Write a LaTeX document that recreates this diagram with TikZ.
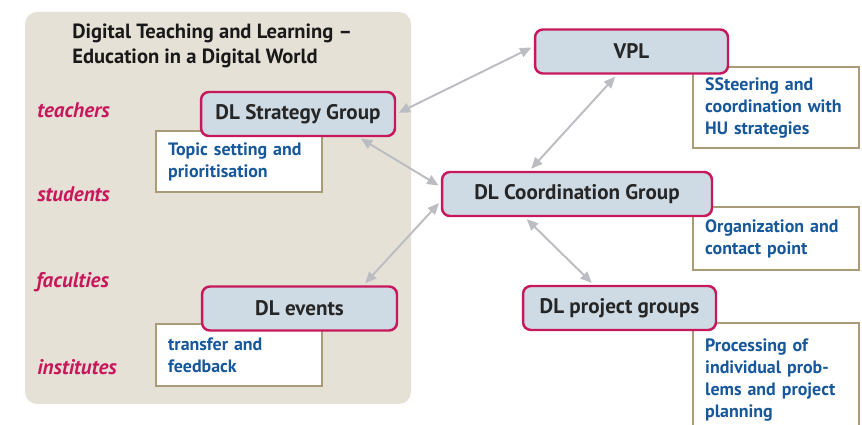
\documentclass[tikz,border=0pt]{standalone}
\usepackage{fontspec}
\setmainfont{PT Sans}
\usepackage{tikz}
\usetikzlibrary{arrows.meta}
\definecolor{panelgray}{RGB}{229,225,214}
\definecolor{hubred}{RGB}{200,24,92}
\definecolor{boxblue}{RGB}{206,219,229}
\definecolor{notetan}{RGB}{170,155,120}
\definecolor{noteblue}{RGB}{22,88,155}
\definecolor{arrowgray}{RGB}{188,189,194}

\begin{document}
\begin{tikzpicture}[x=0.02cm, y=-0.02cm,
	group/.style={draw=hubred, line width=1.4pt, fill=boxblue, rounded corners=4.5pt, minimum height=0.88cm, text=black!85, font=\bfseries\fontsize{12}{14}\selectfont},
	note/.style={draw=notetan, line width=1.4pt, fill=white, anchor=north west, minimum width=3.32cm, text width=2.84cm, inner xsep=0.24cm, align=left, text=noteblue, font=\bfseries\fontsize{10.2}{12.5}\selectfont},
	role/.style={anchor=base west, inner sep=0pt, text=hubred, font=\bfseries\itshape\fontsize{12}{14}\selectfont},
	link/.style={{Triangle[length=6.5pt,width=5.5pt]}-{Triangle[length=6.5pt,width=5.5pt]}, draw=arrowgray, line width=1.1pt, shorten <=1.5pt, shorten >=1.5pt}]
	\useasboundingbox (0,0) rectangle (862,425);
	\fill[panelgray, rounded corners=0.24cm] (25,12) rectangle (411,404);
	\node[anchor=west, align=left, inner sep=0pt, text=black!90, font=\bfseries\fontsize{11.7}{14.6}\selectfont] (title) at (72,46) {Digital Teaching and Learning --\\Education in a Digital World};
	\node[role] (teachers) at (37,118) {teachers};
	\node[role] (students) at (37,202) {students};
	\node[role] (faculties) at (36,288) {faculties};
	\node[role] (institutes) at (37,375) {institutes};
	\node[note, minimum height=1.22cm] (topic) at (155,130) {Topic setting and\\prioritisation};
	\node[note, minimum height=1.24cm] (transfer) at (155,323) {transfer and\\feedback};
	\node[note, minimum height=1.62cm] (steer) at (692,66) {SSteering and\\coordination with\\HU strategies};
	\node[note, minimum height=1.26cm] (orga) at (692,206) {Organization and\\contact point};
	\node[note, minimum height=2.28cm] (procg) at (692,322) {Processing of\\individual prob-\\lems and project\\planning};
	\node[group, minimum width=3.88cm] (strat) at (298,114) {DL Strategy Group};
	\node[group, minimum width=3.86cm] (vpl) at (631.5,51.5) {VPL};
	\node[group, minimum width=5.4cm] (coord) at (577,194) {DL Coordination Group};
	\node[group, minimum width=3.86cm] (proj) at (619.5,308) {DL project groups};
	\node[group, minimum width=3.9cm] (events) at (299.5,308.5) {DL events};
	\draw[link] (strat.east) -- (vpl.177);
	\draw[link] (strat.-21) -- (coord.177);
	\draw[link] (coord.183) -- (events.20);
	\draw[link] (coord.154) -- (vpl.-122);
	\draw[link] (coord.-156) -- (proj.138);
\end{tikzpicture}
\end{document}
